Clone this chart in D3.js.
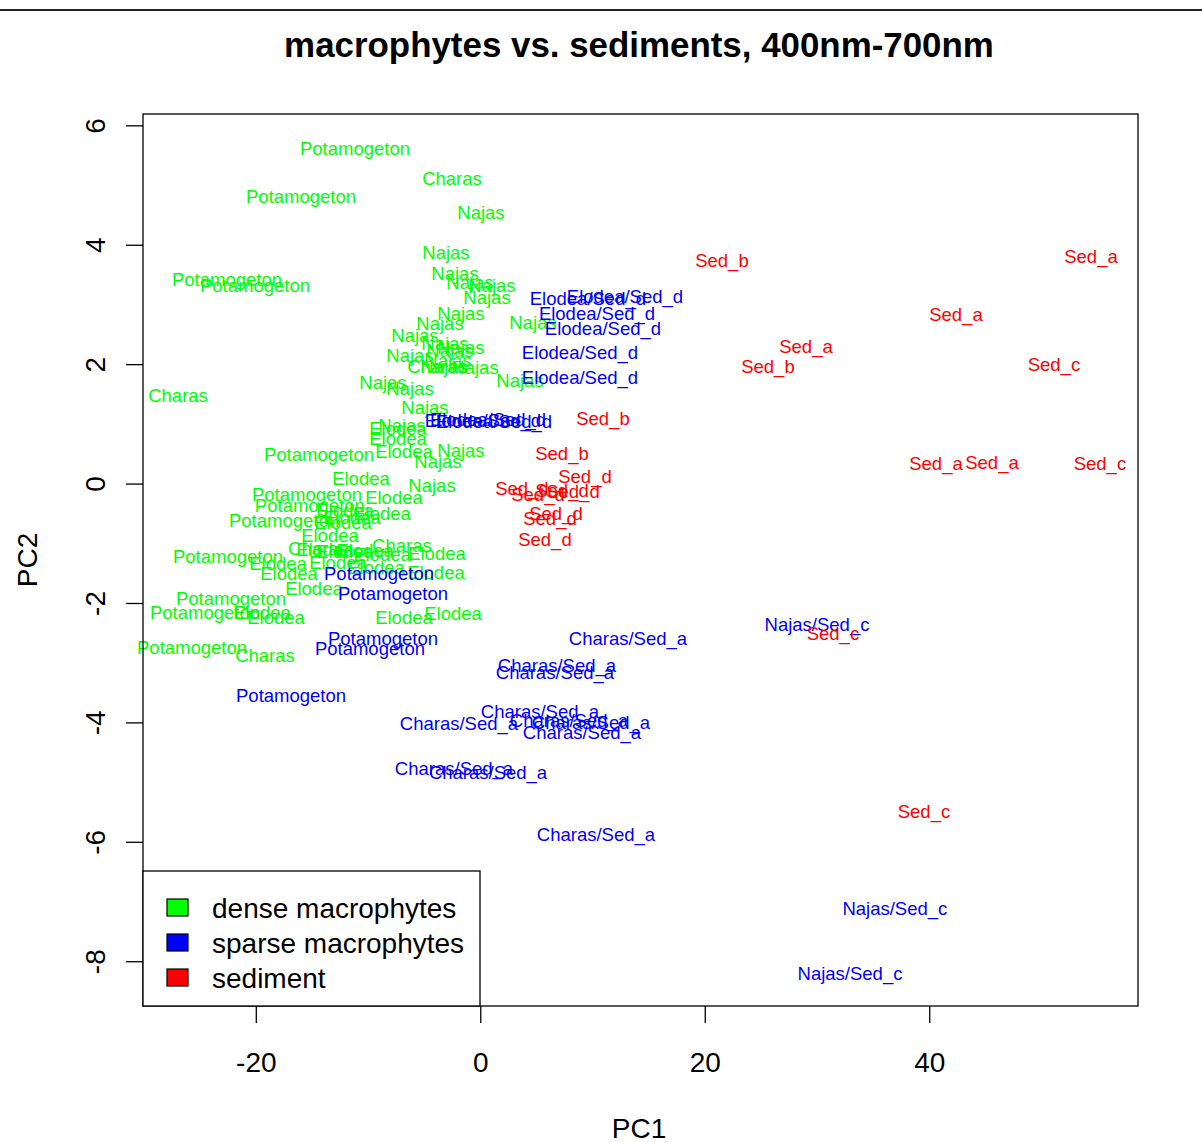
<!DOCTYPE html>
<html><head><meta charset="utf-8">
<script src="https://cdn.jsdelivr.net/npm/d3@7"></script>
<style>body{margin:0;background:#fff;} svg{display:block;}</style>
</head><body>
<script>
// ---- data (PC scores) ----
const denseLabels = ["Potamogeton","Charas","Potamogeton","Najas","Najas","Potamogeton","Potamogeton","Najas","Najas","Najas","Najas","Najas","Najas","Najas","Najas","Najas","Najas","Najas","Najas","Najas","Charas","Najas","Najas","Najas","Najas","Najas","Charas","Najas","Najas","Elodea","Elodea","Elodea","Najas","Najas","Potamogeton","Elodea","Najas","Potamogeton","Elodea","Potamogeton","Elodea","Potamogeton","Elodea","Elodea","Elodea","Elodea","Charas","Charas","Elodea","Elodea","Elodea","Elodea","Elodea","Potamogeton","Elodea","Elodea","Elodea","Elodea","Elodea","Elodea","Potamogeton","Potamogeton","Elodea","Elodea","Elodea","Elodea","Potamogeton","Charas"];
const densePC1 = [-11.16,-2.52,-15.97,0.06,-3.06,-22.57,-20.07,-2.25,-0.92,1.04,0.60,-1.72,-3.59,4.69,-5.82,-3.15,-1.72,-2.70,-6.26,-2.88,-3.86,-3.23,-0.47,3.54,-8.67,-6.26,-26.93,-4.93,-6.98,-7.33,-7.33,-6.80,-1.72,-3.77,-14.37,-10.63,-4.30,-15.44,-7.69,-15.18,-8.76,-17.49,-12.05,-11.43,-12.23,-13.39,-6.98,-14.47,-3.86,-13.84,-12.05,-10.27,-8.76,-22.48,-18.02,-12.68,-9.29,-3.95,-17.04,-14.82,-22.21,-24.53,-19.45,-18.20,-6.80,-2.43,-25.68,-19.18];
const densePC2 = [5.62,5.11,4.81,4.54,3.87,3.42,3.32,3.52,3.37,3.32,3.12,2.85,2.68,2.70,2.48,2.35,2.28,2.23,2.15,2.06,1.96,1.96,1.94,1.73,1.69,1.59,1.48,1.27,0.97,0.92,0.75,0.54,0.55,0.37,0.49,0.08,-0.03,-0.18,-0.23,-0.37,-0.50,-0.62,-0.45,-0.57,-0.65,-0.87,-1.04,-1.09,-1.17,-1.11,-1.14,-1.12,-1.19,-1.22,-1.34,-1.32,-1.41,-1.49,-1.51,-1.76,-1.93,-2.16,-2.16,-2.25,-2.25,-2.18,-2.75,-2.88];

const sparseLabels = ["Elodea/Sed_d","Elodea/Sed_d","Elodea/Sed_d","Elodea/Sed_d","Elodea/Sed_d","Elodea/Sed_d","Elodea/Sed_d","Elodea/Sed_d","Elodea/Sed_d","Potamogeton","Potamogeton","Potamogeton","Potamogeton","Potamogeton","Charas/Sed_a","Charas/Sed_a","Charas/Sed_a","Charas/Sed_a","Charas/Sed_a","Charas/Sed_a","Charas/Sed_a","Charas/Sed_a","Charas/Sed_a","Charas/Sed_a","Charas/Sed_a","Najas/Sed_c","Najas/Sed_c","Najas/Sed_c"];
const sparsePC1 = [9.59,12.89,10.40,10.93,8.88,8.88,0.24,1.22,0.69,-9.02,-7.78,-8.67,-9.83,-16.86,13.16,6.83,6.65,5.32,-1.90,7.90,9.86,9.06,-2.34,0.69,10.31,30.00,36.94,32.94];
const sparsePC2 = [3.10,3.13,2.85,2.60,2.20,1.78,1.06,1.04,1.07,-1.51,-1.84,-2.60,-2.77,-3.55,-2.60,-3.05,-3.17,-3.81,-4.02,-3.97,-4.01,-4.17,-4.78,-4.84,-5.87,-2.36,-7.11,-8.21];

const sedLabels = ["Sed_b","Sed_a","Sed_a","Sed_a","Sed_b","Sed_c","Sed_b","Sed_b","Sed_d","Sed_a","Sed_a","Sed_c","Sed_d","Sed_d","Sed_d","Sed_d","Sed_d","Sed_d","Sed_d","Sed_c","Sed_c"];
const sedPC1 = [21.53,54.41,42.38,29.02,25.63,51.11,10.93,7.28,9.33,40.60,45.59,55.21,3.71,5.14,7.28,8.26,6.74,6.21,5.76,31.42,39.53];
const sedPC2 = [3.74,3.81,2.83,2.30,1.96,2.00,1.09,0.50,0.12,0.34,0.35,0.34,-0.08,-0.18,-0.12,-0.13,-0.50,-0.59,-0.94,-2.51,-5.50];

const groupNames = ["dense macrophytes","sparse macrophytes","sediment"];
const groupColors = ["#00FF00","#0000FF","#FF0000"];
const xTicks = [-20,0,20,40];
const yTicks = [-8,-6,-4,-2,0,2,4,6];
const titleText = "macrophytes vs. sediments, 400nm-700nm";
const xTitle = "PC1", yTitle = "PC2";

// ---- drawing ----
const W = 1202, H = 1142;
const L = 143, R = 1138, T = 114, B = 1006;
const font = "'Liberation Sans', Arial, sans-serif";
const svg = d3.select("body").append("svg").attr("width", W).attr("height", H)
  .style("font-family", font);

svg.append("line").attr("x1",0).attr("x2",W).attr("y1",10).attr("y2",10)
  .attr("stroke","#222").attr("stroke-width",2);

const x = d3.scaleLinear().domain([-30.05, 58.6]).range([L, R]);
const y = d3.scaleLinear().domain([-8.75, 6.19]).range([B, T]);

svg.append("text").attr("x", 639).attr("y", 57).attr("text-anchor","middle")
  .attr("font-size", 34.9).attr("font-weight","bold").attr("fill","#000").text(titleText);

const groups = [
  {labels: denseLabels, xs: densePC1, ys: densePC2, color: groupColors[0]},
  {labels: sparseLabels, xs: sparsePC1, ys: sparsePC2, color: groupColors[1]},
  {labels: sedLabels, xs: sedPC1, ys: sedPC2, color: groupColors[2]}
];
const pts = svg.append("g");
groups.forEach(g => {
  pts.selectAll(null).data(g.labels.map((l,i)=>({l, px:g.xs[i], py:g.ys[i]})))
    .enter().append("text")
    .attr("x", d => x(d.px)).attr("y", d => y(d.py)).attr("dy","0.35em")
    .attr("text-anchor","middle").attr("font-size",18.5).attr("fill", g.color)
    .text(d => d.l);
});

// box
svg.append("rect").attr("x",L).attr("y",T).attr("width",R-L).attr("height",B-T)
  .attr("fill","none").attr("stroke","#000").attr("stroke-width",1.3);

const fmt = d => String(d);
// x axis
const xa = svg.append("g").attr("transform",`translate(0,${B})`)
  .call(d3.axisBottom(x).tickValues(xTicks).tickSize(17).tickSizeOuter(0).tickFormat(fmt));
xa.select(".domain").remove();
xa.selectAll("line").attr("stroke","#000").attr("stroke-width",1.3);
xa.selectAll("text").attr("y",56).attr("dy","0.35em").attr("font-size",28)
  .attr("font-family",font).attr("fill","#000");

// y axis
const ya = svg.append("g").attr("transform",`translate(${L},0)`)
  .call(d3.axisLeft(y).tickValues(yTicks).tickSize(17).tickSizeOuter(0).tickFormat(fmt));
ya.select(".domain").remove();
ya.selectAll("line").attr("stroke","#000").attr("stroke-width",1.3);
ya.selectAll("text").attr("transform","rotate(-90)").attr("x",0).attr("y",-48)
  .attr("dy","0.35em").attr("text-anchor","middle").attr("font-size",28)
  .attr("font-family",font).attr("fill","#000");

svg.append("text").attr("x",639).attr("y",1138).attr("text-anchor","middle")
  .attr("font-size",28).text(xTitle);
svg.append("text").attr("transform","translate(37,560) rotate(-90)").attr("text-anchor","middle")
  .attr("font-size",28).text(yTitle);

// legend
const lg = svg.append("g");
lg.append("rect").attr("x",L).attr("y",871).attr("width",480-L).attr("height",B-871)
  .attr("fill","#fff").attr("stroke","#000").attr("stroke-width",1.3);
groupNames.forEach((n,i) => {
  const cy = 908 + i*35;
  lg.append("rect").attr("x",167).attr("y",cy-9).attr("width",21).attr("height",17)
    .attr("fill",groupColors[i]).attr("stroke","#000").attr("stroke-width",1.2);
  lg.append("text").attr("x",212).attr("y",cy).attr("dy","0.35em").attr("font-size",28)
    .attr("fill","#000").text(n);
});
</script>
</body></html>
